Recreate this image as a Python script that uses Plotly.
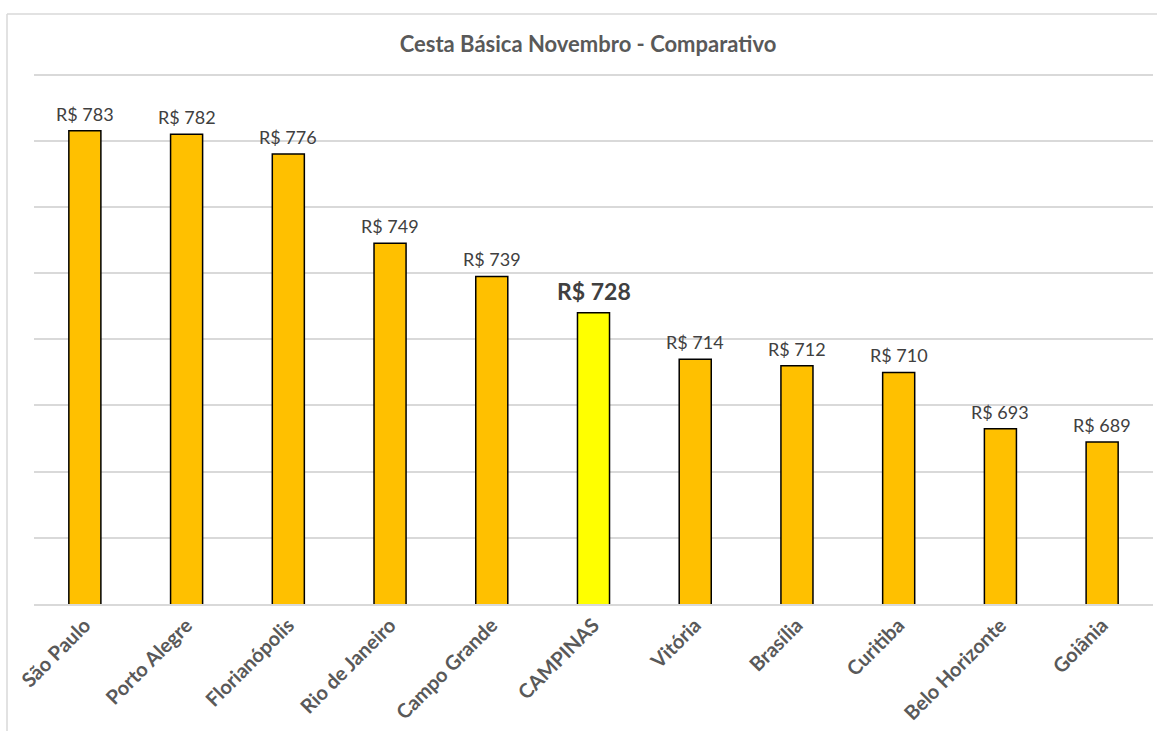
import plotly.graph_objects as go

cities = ["São Paulo", "Porto Alegre", "Florianópolis", "Rio de Janeiro", "Campo Grande",
          "CAMPINAS", "Vitória", "Brasília", "Curitiba", "Belo Horizonte", "Goiânia"]
values = [783, 782, 776, 749, 739, 728, 714, 712, 710, 693, 689]
highlight = "CAMPINAS"

colors = ["#FFFF00" if c == highlight else "#FFC000" for c in cities]

fig = go.Figure(go.Bar(
    x=cities, y=values, width=0.315,
    marker=dict(color=colors, line=dict(color="#000000", width=1.5)),
))

annotations = []
for c, v in zip(cities, values):
    hl = c == highlight
    annotations.append(dict(
        x=c, y=v, xref="x", yref="y", showarrow=False,
        text=f"<b>R$ {v}</b>" if hl else f"R$ {v}",
        yanchor="middle", yshift=22 if hl else 17,
        font=dict(family="Lato", size=23 if hl else 18, color="#404040"),
    ))

top_px = 68
fig.update_layout(
    width=1157, height=731,
    margin=dict(l=34, r=4, t=top_px, b=127),
    paper_bgcolor="white", plot_bgcolor="white",
    title=dict(text="<b>Cesta Básica Novembro - Comparativo</b>", x=588 / 1157, xanchor="center",
               y=1 - 44 / 731, yanchor="middle",
               font=dict(family="Lato", size=22, color="#595959")),
    showlegend=False,
    annotations=annotations,
    shapes=[
        dict(type="line", xref="paper", yref="paper", x0=-27 / 1119, x1=1.05,
             y0=(604 - 14) / (604 - top_px), y1=(604 - 14) / (604 - top_px),
             line=dict(color="#d9d9d9", width=1.5)),
        dict(type="line", xref="paper", yref="paper", x0=-27 / 1119, x1=-27 / 1119,
             y0=(604 - 14) / (604 - top_px), y1=-0.3, line=dict(color="#d9d9d9", width=1.5)),
    ],
)
fig.update_xaxes(tickangle=-45, showline=True, linecolor="#d9d9d9", linewidth=1.5,
                 tickfont=dict(family="Lato", size=20, color="#595959", weight="bold"),
                 ticks="")
fig.update_yaxes(range=[640, 802], tick0=640, dtick=20, showticklabels=False,
                 gridcolor="#d9d9d9", gridwidth=1.5, zeroline=False)

fig.write_html("out.html")
